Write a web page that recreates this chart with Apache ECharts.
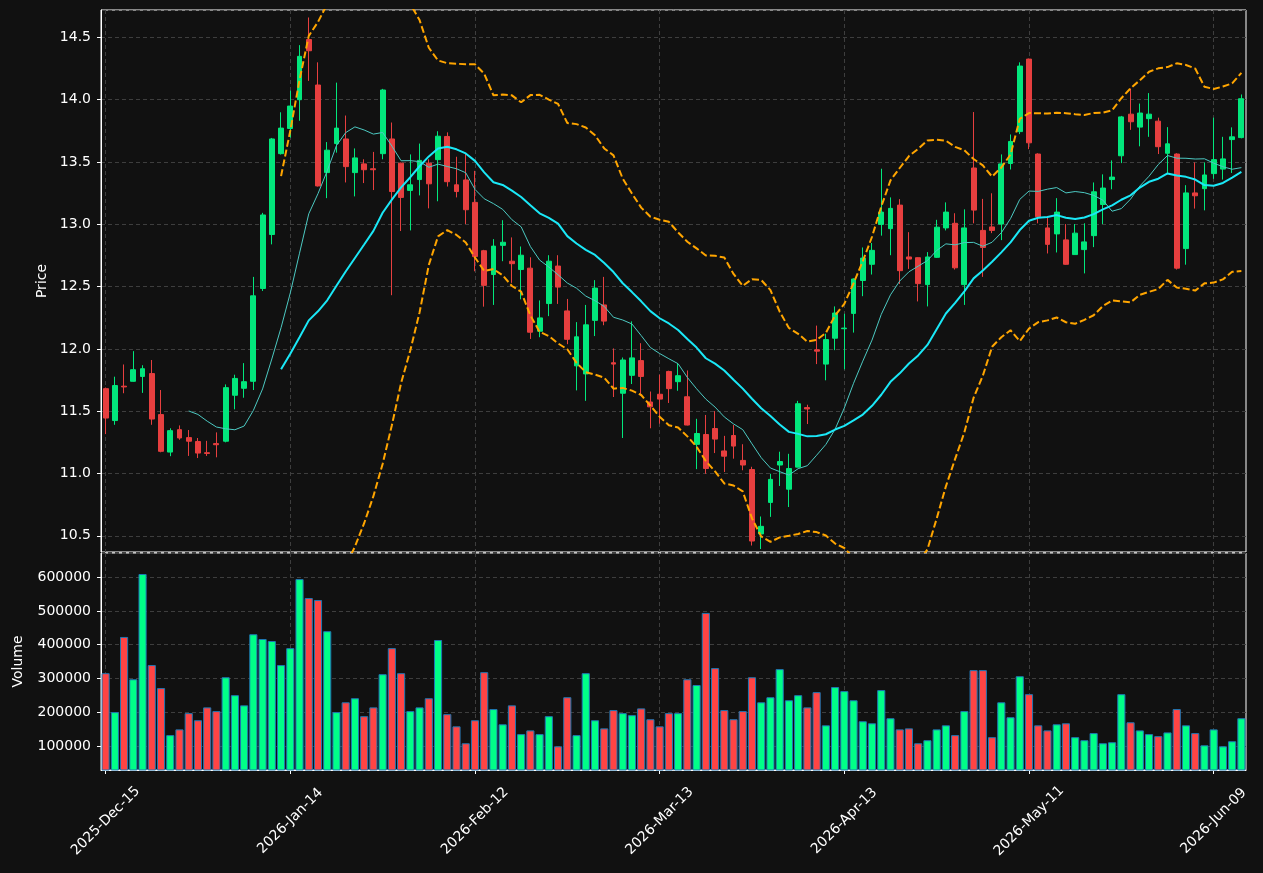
<!DOCTYPE html>
<html>
<head>
<meta charset="utf-8">
<script src="https://cdn.jsdelivr.net/npm/echarts@6/dist/echarts.min.js"></script>
<style>
  html, body { margin: 0; padding: 0; background: #111111; }
  #chart { width: 1263px; height: 873px; }
</style>
</head>
<body>
<div id="chart"></div>
<script>
// trading calendar: weekdays from the first session, minus exchange holidays
const firstSession = '2025-12-15';
const sessionCount = 124;
const holidays = ['2025-12-25', '2026-01-01', '2026-01-19', '2026-02-16', '2026-04-03', '2026-05-25'];
const monthNames = ['Jan', 'Feb', 'Mar', 'Apr', 'May', 'Jun', 'Jul', 'Aug', 'Sep', 'Oct', 'Nov', 'Dec'];

const opens = [
  11.681, 11.425, 11.701, 11.740, 11.779, 11.802, 11.473, 11.172, 11.352, 11.288,
  11.257, 11.167, 11.240, 11.259, 11.628, 11.684, 11.740, 12.485, 12.918, 13.567,
  13.769, 14.000, 14.483, 14.118, 13.415, 13.648, 13.685, 13.415, 13.485, 13.446,
  13.567, 13.685, 13.491, 13.272, 13.359, 13.491, 13.519, 13.705, 13.317, 13.356,
  13.176, 12.788, 12.597, 12.831, 12.704, 12.637, 12.648, 12.142, 12.364, 12.665,
  12.305, 11.864, 11.799, 12.229, 12.353, 11.889, 11.644, 11.788, 11.906, 11.574,
  11.636, 11.819, 11.737, 11.616, 11.234, 11.313, 11.361, 11.181, 11.305, 11.105,
  11.032, 10.515, 10.768, 11.068, 10.874, 11.051, 11.529, 11.993, 11.878, 12.086,
  12.162, 12.285, 12.549, 12.679, 12.999, 12.965, 13.154, 12.738, 12.732, 12.516,
  12.735, 12.971, 13.008, 12.516, 13.452, 12.951, 12.979, 13.002, 13.488, 13.744,
  14.326, 13.564, 12.971, 12.923, 12.875, 12.757, 12.797, 12.909, 13.159, 13.359,
  13.550, 13.884, 13.780, 13.848, 13.828, 13.570, 13.564, 12.805, 13.252, 13.286,
  13.407, 13.443, 13.680, 13.696
];
const closes = [
  11.445, 11.706, 11.695, 11.833, 11.841, 11.437, 11.178, 11.344, 11.285, 11.259,
  11.164, 11.161, 11.231, 11.689, 11.763, 11.737, 12.426, 13.075, 13.685, 13.772,
  13.949, 14.348, 14.393, 13.308, 13.595, 13.772, 13.463, 13.533, 13.438, 13.438,
  14.078, 13.263, 13.216, 13.317, 13.513, 13.325, 13.707, 13.342, 13.263, 13.117,
  12.741, 12.510, 12.825, 12.856, 12.684, 12.752, 12.134, 12.249, 12.704, 12.496,
  12.077, 12.097, 12.193, 12.488, 12.223, 11.878, 11.911, 11.928, 11.779, 11.535,
  11.597, 11.681, 11.785, 11.389, 11.321, 11.040, 11.276, 11.139, 11.220, 11.068,
  10.458, 10.576, 10.953, 11.096, 11.040, 11.560, 11.518, 11.982, 12.075, 12.288,
  12.167, 12.561, 12.729, 12.791, 13.098, 13.128, 12.628, 12.721, 12.524, 12.738,
  12.977, 13.098, 12.651, 12.971, 13.114, 12.814, 12.951, 13.485, 13.665, 14.270,
  13.654, 13.061, 12.839, 13.098, 12.679, 12.929, 12.859, 13.261, 13.291, 13.379,
  13.862, 13.823, 13.893, 13.884, 13.623, 13.646, 12.648, 13.252, 13.229, 13.396,
  13.519, 13.525, 13.702, 14.008
];
const lows = [
  11.316, 11.391, 11.644, 11.737, 11.647, 11.391, 11.170, 11.139, 11.271, 11.141,
  11.124, 11.141, 11.130, 11.250, 11.515, 11.608, 11.670, 12.465, 12.839, 13.560,
  13.696, 13.831, 14.151, 13.303, 13.210, 13.575, 13.336, 13.224, 13.331, 13.275,
  13.522, 12.431, 12.946, 12.951, 13.232, 13.128, 13.185, 13.303, 13.216, 13.002,
  12.623, 12.339, 12.353, 12.704, 12.530, 12.398, 12.080, 12.094, 12.263, 12.361,
  12.038, 11.667, 11.583, 12.103, 12.190, 11.614, 11.285, 11.718, 11.625, 11.363,
  11.400, 11.566, 11.664, 11.386, 11.035, 10.998, 11.164, 11.012, 11.119, 11.026,
  10.422, 10.394, 10.652, 10.900, 10.731, 11.050, 11.397, 11.878, 11.748, 11.990,
  11.836, 12.131, 12.423, 12.597, 12.909, 12.752, 12.521, 12.642, 12.381, 12.341,
  12.730, 12.951, 12.637, 12.353, 13.008, 12.578, 12.929, 12.873, 13.440, 13.724,
  13.603, 13.008, 12.766, 12.774, 12.675, 12.755, 12.606, 12.817, 13.002, 13.281,
  13.491, 13.758, 13.626, 13.702, 13.564, 13.412, 12.637, 12.676, 13.126, 13.112,
  13.365, 13.359, 13.412, 13.690
];
const highs = [
  11.690, 11.777, 11.875, 11.982, 11.869, 11.911, 11.670, 11.363, 11.386, 11.349,
  11.285, 11.262, 11.330, 11.715, 11.793, 11.886, 12.578, 13.092, 13.693, 13.899,
  14.073, 14.438, 14.660, 14.300, 13.660, 14.137, 13.873, 13.609, 13.522, 13.581,
  14.087, 13.817, 13.495, 13.561, 13.648, 13.522, 13.747, 13.738, 13.542, 13.570,
  13.429, 12.795, 12.881, 13.033, 12.895, 12.822, 12.735, 12.389, 12.752, 12.752,
  12.401, 12.215, 12.353, 12.552, 12.578, 12.004, 11.931, 12.221, 12.046, 11.658,
  11.793, 11.825, 11.883, 11.827, 11.439, 11.470, 11.501, 11.302, 11.389, 11.235,
  11.054, 10.655, 10.998, 11.175, 11.158, 11.583, 11.552, 12.187, 12.122, 12.341,
  12.282, 12.566, 12.814, 12.850, 13.446, 13.216, 13.202, 12.937, 12.735, 12.777,
  13.036, 13.176, 13.089, 13.120, 13.901, 13.204, 13.249, 13.561, 13.721, 14.300,
  14.330, 13.570, 13.067, 13.210, 13.002, 13.002, 13.008, 13.336, 13.401, 13.513,
  13.870, 14.090, 13.969, 14.053, 13.856, 13.780, 13.570, 13.314, 13.497, 13.497,
  13.856, 13.702, 13.778, 14.042
];
const volumes = [
  316000, 201000, 423000, 298000, 609000, 340000, 272000, 133000, 150000, 198000,
  177000, 215000, 204000, 304000, 251000, 221000, 431000, 417000, 411000, 340000,
  390000, 594000, 538000, 532000, 440000, 201000, 230000, 242000, 189000, 215000,
  313000, 390000, 316000, 204000, 215000, 242000, 414000, 195000, 159000, 109000,
  177000, 319000, 210000, 165000, 221000, 136000, 147000, 136000, 189000, 100000,
  245000, 133000, 316000, 177000, 153000, 207000, 198000, 192000, 212000, 180000,
  159000, 198000, 198000, 298000, 281000, 494000, 331000, 207000, 180000, 204000,
  304000, 230000, 245000, 328000, 236000, 251000, 215000, 260000, 162000, 275000,
  263000, 236000, 174000, 168000, 266000, 183000, 150000, 153000, 109000, 118000,
  150000, 162000, 133000, 204000, 325000, 325000, 127000, 230000, 186000, 307000,
  254000, 162000, 147000, 165000, 168000, 127000, 118000, 139000, 109000, 112000,
  254000, 171000, 147000, 136000, 130000, 141000, 210000, 162000, 139000, 103000,
  150000, 100000, 115000, 183000
];

// overlays; each starts at the session index given
const maFastStart = 9;
const maFast = [
  11.502, 11.474, 11.420, 11.373, 11.359, 11.351, 11.381, 11.506, 11.679, 11.919, 12.170,
  12.449, 12.768, 13.084, 13.246, 13.429, 13.632, 13.736, 13.782, 13.757, 13.724,
  13.737, 13.628, 13.510, 13.511, 13.503, 13.458, 13.483, 13.464, 13.446, 13.414,
  13.280, 13.205, 13.166, 13.120, 13.037, 12.980, 12.822, 12.713, 12.657, 12.595,
  12.529, 12.487, 12.424, 12.387, 12.341, 12.254, 12.232, 12.200, 12.107, 12.011,
  11.963, 11.921, 11.881, 11.771, 11.680, 11.597, 11.533, 11.454, 11.398, 11.352,
  11.238, 11.127, 11.044, 11.015, 10.987, 11.039, 11.063, 11.147, 11.233, 11.355,
  11.526, 11.724, 11.902, 12.071, 12.277, 12.434, 12.545, 12.619, 12.664, 12.709,
  12.790, 12.843, 12.835, 12.853, 12.855, 12.824, 12.856, 12.932, 13.046, 13.200,
  13.267, 13.264, 13.282, 13.295, 13.252, 13.263, 13.254, 13.232, 13.194, 13.105,
  13.126, 13.202, 13.307, 13.386, 13.480, 13.552, 13.531, 13.530, 13.524, 13.526,
  13.491, 13.462, 13.442, 13.455
];
const maSlowStart = 19;
const maSlow = [
  11.836, 11.962, 12.094, 12.229, 12.302, 12.390, 12.507, 12.621, 12.730, 12.838, 12.947,
  13.093, 13.198, 13.297, 13.378, 13.466, 13.545, 13.609, 13.623, 13.602, 13.569,
  13.509, 13.417, 13.338, 13.316, 13.270, 13.219, 13.153, 13.088, 13.052, 13.005,
  12.905, 12.846, 12.795, 12.754, 12.689, 12.617, 12.527, 12.456, 12.382, 12.303,
  12.246, 12.204, 12.152, 12.079, 12.011, 11.925, 11.882, 11.827, 11.753, 11.681,
  11.600, 11.524, 11.462, 11.393, 11.334, 11.318, 11.298, 11.301, 11.315, 11.353,
  11.382, 11.426, 11.473, 11.543, 11.632, 11.736, 11.804, 11.883, 11.948, 12.032,
  12.158, 12.284, 12.369, 12.462, 12.566, 12.629, 12.700, 12.775, 12.855, 12.954,
  13.028, 13.053, 13.059, 13.074, 13.053, 13.043, 13.055, 13.082, 13.120, 13.152,
  13.197, 13.233, 13.295, 13.341, 13.366, 13.408, 13.392, 13.381, 13.359, 13.315,
  13.309, 13.332, 13.375, 13.420
];
const bandUpper = [
  13.387, 13.752, 14.158, 14.512, 14.624, 14.768, 14.915, 14.983, 15.047, 15.075, 15.076,
  15.109, 15.009, 14.868, 14.767, 14.639, 14.417, 14.315, 14.293, 14.289, 14.284,
  14.284, 14.209, 14.035, 14.042, 14.035, 13.979, 14.037, 14.039, 14.001, 13.966,
  13.813, 13.804, 13.777, 13.714, 13.609, 13.553, 13.367, 13.247, 13.134, 13.061,
  13.036, 13.020, 12.935, 12.860, 12.807, 12.750, 12.747, 12.734, 12.602, 12.506,
  12.560, 12.553, 12.472, 12.299, 12.168, 12.121, 12.058, 12.072, 12.128, 12.268,
  12.362, 12.527, 12.704, 12.900, 13.143, 13.353, 13.452, 13.548, 13.606, 13.673,
  13.678, 13.671, 13.621, 13.594, 13.524, 13.473, 13.383, 13.456, 13.560, 13.846,
  13.893, 13.891, 13.889, 13.896, 13.892, 13.884, 13.877, 13.894, 13.896, 13.915,
  14.012, 14.092, 14.156, 14.224, 14.252, 14.262, 14.292, 14.279, 14.250, 14.104,
  14.086, 14.106, 14.131, 14.215
];
const bandLower = [
  10.285, 10.172, 10.030, 9.946, 9.980, 10.012, 10.099, 10.259, 10.413, 10.601, 10.818,
  11.077, 11.387, 11.726, 11.989, 12.293, 12.673, 12.903, 12.953, 12.915, 12.854,
  12.734, 12.625, 12.641, 12.590, 12.505, 12.459, 12.269, 12.137, 12.103, 12.044,
  11.997, 11.888, 11.813, 11.794, 11.769, 11.681, 11.687, 11.665, 11.630, 11.545,
  11.456, 11.388, 11.369, 11.298, 11.215, 11.100, 11.017, 10.920, 10.904, 10.856,
  10.640, 10.495, 10.452, 10.487, 10.500, 10.515, 10.538, 10.530, 10.502, 10.438,
  10.402, 10.325, 10.242, 10.186, 10.121, 10.119, 10.156, 10.218, 10.290, 10.391,
  10.638, 10.897, 11.117, 11.330, 11.608, 11.785, 12.017, 12.094, 12.150, 12.062,
  12.163, 12.215, 12.229, 12.252, 12.214, 12.202, 12.233, 12.270, 12.344, 12.389,
  12.382, 12.374, 12.434, 12.458, 12.480, 12.554, 12.492, 12.483, 12.468, 12.526,
  12.532, 12.558, 12.619, 12.625
];

const priceRange = [10.37, 14.72];
const volumeRange = [30000, 671000];
const labelEvery = 20;

function buildSessions() {
  const out = [];
  const d = new Date(firstSession + 'T00:00:00Z');
  while (out.length < sessionCount) {
    const iso = d.toISOString().slice(0, 10);
    const wd = d.getUTCDay();
    if (wd !== 0 && wd !== 6 && holidays.indexOf(iso) < 0) {
      out.push(d.getUTCFullYear() + '-' + monthNames[d.getUTCMonth()] + '-' +
        String(d.getUTCDate()).padStart(2, '0'));
    }
    d.setUTCDate(d.getUTCDate() + 1);
  }
  return out;
}
const sessions = buildSessions();

function placeFrom(start, values) {
  return sessions.map((_, i) => (i < start ? null : values[i - start]));
}

const UP = '#02e77c', DOWN = '#e73f3f';
const VOL_UP = '#00ff88', VOL_DOWN = '#ff4444';
const text = { color: '#ffffff', fontSize: 14, fontFamily: 'DejaVu Sans' };
const dashedGrid = { show: true, lineStyle: { color: '#3e3e3e', type: [4, 3], width: 1 } };
const bandStyle = { color: '#ffa500', width: 2, type: [7, 3] };

const chart = echarts.init(document.getElementById('chart'));
chart.setOption({
  animation: false,
  backgroundColor: '#111111',
  textStyle: { fontFamily: 'DejaVu Sans' },
  grid: [
    { left: 101, right: 17, top: 10, height: 542, show: true, borderColor: '#ffffff', borderWidth: 1,
      backgroundColor: 'transparent', outerBoundsMode: 'none' },
    { left: 101, right: 17, top: 553, height: 217, show: true, borderColor: '#ffffff', borderWidth: 1,
      backgroundColor: 'transparent', outerBoundsMode: 'none' }
  ],
  xAxis: [
    {
      type: 'category', gridIndex: 0, data: sessions, boundaryGap: true,
      axisLine: { show: false }, axisTick: { show: false }, axisLabel: { show: false },
      splitLine: Object.assign({ interval: labelEvery - 1, alignWithLabel: true }, dashedGrid)
    },
    {
      type: 'category', gridIndex: 1, data: sessions, boundaryGap: true,
      axisLine: { show: true, lineStyle: { color: '#ffffff' } },
      axisTick: { show: true, interval: labelEvery - 1, alignWithLabel: true, length: 4,
        lineStyle: { color: '#ffffff' } },
      axisLabel: Object.assign({ interval: labelEvery - 1, rotate: 45, margin: 51,
        align: 'center', verticalAlign: 'middle' }, text),
      splitLine: Object.assign({ interval: labelEvery - 1, alignWithLabel: true }, dashedGrid)
    }
  ],
  yAxis: [
    {
      type: 'value', gridIndex: 0, min: priceRange[0], max: priceRange[1], splitNumber: 8,
      name: 'Price', nameLocation: 'middle', nameGap: 50, nameTextStyle: text,
      axisLine: { show: true, lineStyle: { color: '#ffffff' } },
      axisTick: { show: true, length: 4, lineStyle: { color: '#ffffff' } },
      axisLabel: Object.assign({ showMinLabel: false, showMaxLabel: false, margin: 10,
        formatter: v => v.toFixed(1) }, text),
      splitLine: dashedGrid
    },
    {
      type: 'value', gridIndex: 1, min: volumeRange[0], max: volumeRange[1], splitNumber: 5,
      name: 'Volume', nameLocation: 'middle', nameGap: 76, nameTextStyle: text,
      axisLine: { show: true, lineStyle: { color: '#ffffff' } },
      axisTick: { show: true, length: 4, lineStyle: { color: '#ffffff' } },
      axisLabel: Object.assign({ showMinLabel: false, showMaxLabel: false, margin: 10,
        formatter: v => String(Math.round(v)) }, text),
      splitLine: dashedGrid
    }
  ],
  series: [
    {
      type: 'candlestick', xAxisIndex: 0, yAxisIndex: 0, barWidth: '58%',
      data: sessions.map((_, i) => [opens[i], closes[i], lows[i], highs[i]]),
      itemStyle: { color: UP, color0: DOWN, borderColor: UP, borderColor0: DOWN, borderWidth: 1 }
    },
    {
      type: 'line', xAxisIndex: 0, yAxisIndex: 0, data: placeFrom(maFastStart, maFast),
      symbol: 'none', lineStyle: { color: '#4cc9c2', width: 1 }
    },
    {
      type: 'line', xAxisIndex: 0, yAxisIndex: 0, data: placeFrom(maSlowStart, maSlow),
      symbol: 'none', lineStyle: { color: '#1ae8f7', width: 2 }
    },
    {
      type: 'line', xAxisIndex: 0, yAxisIndex: 0, data: placeFrom(maSlowStart, bandUpper),
      symbol: 'none', clip: true, lineStyle: bandStyle
    },
    {
      type: 'line', xAxisIndex: 0, yAxisIndex: 0, data: placeFrom(maSlowStart, bandLower),
      symbol: 'none', clip: true, lineStyle: bandStyle
    },
    {
      type: 'bar', xAxisIndex: 1, yAxisIndex: 1, data: volumes, barWidth: '88%',
      itemStyle: {
        color: p => (closes[p.dataIndex] >= opens[p.dataIndex] ? VOL_UP : VOL_DOWN),
        borderColor: '#1f77b4', borderWidth: 1
      }
    }
  ]
});
</script>
</body>
</html>
